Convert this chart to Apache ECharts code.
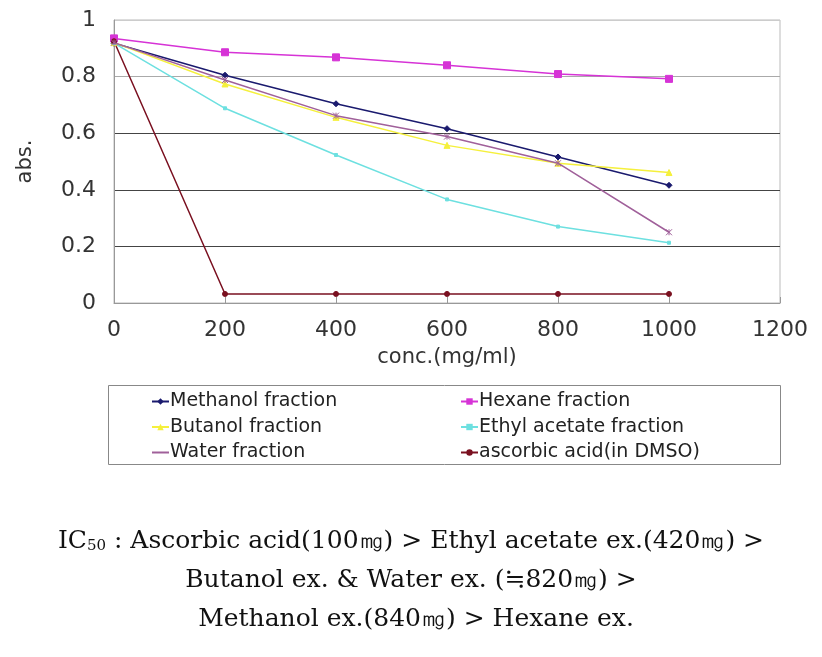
<!DOCTYPE html>
<html><head><meta charset="utf-8">
<script src="https://cdn.jsdelivr.net/npm/echarts@6/dist/echarts.min.js"></script>
<style>html,body{margin:0;padding:0;background:#fff}#c{width:822px;height:657px}</style>
</head><body><div id="c"></div>
<script>
const concs = [0, 200, 400, 600, 800, 1000];
const methanol = [0.918, 0.805, 0.704, 0.616, 0.516, 0.416];
const hexane = [0.935, 0.886, 0.868, 0.840, 0.809, 0.792];
const butanol = [0.920, 0.774, 0.656, 0.557, 0.494, 0.461];
const ethylAcetate = [0.918, 0.688, 0.523, 0.366, 0.270, 0.213];
const water = [0.920, 0.788, 0.662, 0.588, 0.494, 0.250];
const ascorbic = [0.925, 0.032, 0.032, 0.032, 0.032, 0.032];
const xTicks = [0, 200, 400, 600, 800, 1000, 1200];
const yTicks = [0, 0.2, 0.4, 0.6, 0.8, 1];
const names = ['Methanol fraction','Hexane fraction','Butanol fraction','Ethyl acetate fraction','Water fraction','ascorbic acid(in DMSO)'];
const colors = ['#1a1a6e','#d633d6','#f5f03c','#6de0e0','#a0609a','#7a1020'];
const symbols = ['diamond','rect','triangle','rect','path://M0,0L10,10M10,0L0,10M5,0L5,10','circle'];
const sizes = [6,7,6,3,6,5];
const allData = [methanol, hexane, butanol, ethylAcetate, water, ascorbic];

const FONT = 'DejaVu Sans';
const chart = echarts.init(document.getElementById('c'));
const series = allData.map((d,i)=>({
  name: names[i], type:'line', data: d.map((v,j)=>[concs[j], v]),
  symbol: symbols[i], symbolSize: sizes[i], showAllSymbol:true,
  lineStyle:{color:colors[i], width:1.5}, itemStyle:{color:colors[i], borderColor:colors[i]},
  z: i===4?4:3, animation:false
}));
const legendCommon = {orient:'vertical', itemWidth:17, itemHeight:8, itemGap:6.5,
  textStyle:{fontFamily:FONT, fontSize:19, color:'#222', padding:[0,0,0,-4]}};
chart.setOption({
  animation:false,
  backgroundColor:'#fff',
  grid:{left:114, right:42, top:20, bottom:354, show:true, borderColor:'#bbb', borderWidth:1},
  xAxis:{type:'value', min:0, max:1200, interval:200,
    name:'conc.(mg/ml)', nameLocation:'middle', nameGap:44,
    nameTextStyle:{fontFamily:FONT, fontSize:21, color:'#333'},
    axisLine:{lineStyle:{color:'#999'}}, axisTick:{show:true, inside:true, length:6, lineStyle:{color:'#999'}},
    axisLabel:{fontFamily:FONT, fontSize:22, color:'#333', margin:16,
      formatter:v=> xTicks.includes(v)? String(v):''},
    splitLine:{show:false}},
  yAxis:{type:'value', min:0, max:1, interval:0.2,
    name:'abs.', nameLocation:'middle', nameGap:78, nameRotate:90,
    nameTextStyle:{fontFamily:FONT, fontSize:21, color:'#333'},
    axisLine:{show:true, lineStyle:{color:'#999'}}, axisTick:{show:false},
    axisLabel:{fontFamily:FONT, fontSize:22, color:'#333', margin:18,
      formatter:v=> String(yTicks.find(t=>Math.abs(t-v)<1e-9) ?? '')},
    splitLine:{show:true, lineStyle:{color:['#999','#444','#444','#444','#aaa','#ccc'], width:1.2}}},
  legend:[
    Object.assign({left:146, top:387, data:[names[0],names[2],names[4]]}, legendCommon),
    Object.assign({left:455, top:387, data:[names[1],names[3],names[5]]}, legendCommon)
  ],
  graphic:[
    {type:'rect', shape:{x:108.5, y:385.5, width:672, height:79}, style:{fill:'none', stroke:'#888', lineWidth:1}, z:-1},
    {type:'text', x:411, y:541, style:{text:'{n|IC}{s|50}{n| : Ascorbic acid(100㎎) > Ethyl acetate ex.(420㎎) >}',
      align:'center', verticalAlign:'middle',
      rich:{n:{fontFamily:'DejaVu Serif', fontSize:25, fill:'#111'}, s:{fontFamily:'DejaVu Serif', fontSize:15, fill:'#111', padding:[10,0,0,0]}}}},
    {type:'text', x:411, y:580, style:{text:'Butanol ex. & Water ex. (≒820㎎) >', align:'center', verticalAlign:'middle',
      font:'25px "DejaVu Serif"', fill:'#111'}},
    {type:'text', x:416, y:619, style:{text:'Methanol ex.(840㎎) > Hexane ex.', align:'center', verticalAlign:'middle',
      font:'25px "DejaVu Serif"', fill:'#111'}}
  ],
  series
});
</script></body></html>
